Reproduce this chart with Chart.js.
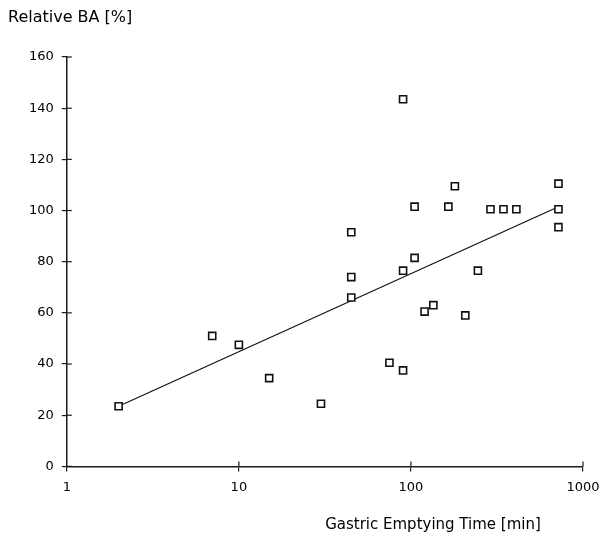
<!DOCTYPE html>
<html>
<head>
<meta charset="utf-8">
<script src="https://cdn.jsdelivr.net/npm/chart.js@4/dist/chart.umd.min.js"></script>
<style>
  html, body { margin: 0; padding: 0; background: #fff; }
  #wrap { width: 604px; height: 543px; }
</style>
</head>
<body>
<div id="wrap"><canvas id="grafico" width="604" height="543"></canvas></div>
<script>
/* ---------- dados ---------- */
// tempo de esvaziamento gástrico [min]
const tempoMin = [2, 7, 10, 15, 30, 45, 45, 45, 75, 90, 90, 90, 105, 105, 120, 135, 165, 180, 207, 245, 290, 345, 410, 720, 720, 720];
// biodisponibilidade relativa [%]
const relBA    = [23.5, 51, 47.5, 34.5, 24.5, 91.5, 74, 66, 40.5, 37.5, 76.5, 143.5, 101.5, 81.5, 60.5, 63, 101.5, 109.5, 59, 76.5, 100.5, 100.5, 100.5, 110.5, 100.5, 93.5];
// reta de regressão (extremos)
const retaX = [2, 720];
const retaY = [23.5, 101.5];
// marcas dos eixos
const ticksX = [1, 10, 100, 1000];
const ticksY = [0, 20, 40, 60, 80, 100, 120, 140, 160];

const fonte = "'DejaVu Sans', sans-serif";
const corEixo = '#1a1a1a';

// marcas que cruzam o eixo para dentro da área + títulos
const marcasInternas = {
  id: 'marcasInternas',
  afterDraw(chart) {
    const { ctx, chartArea, scales } = chart;
    ctx.save();
    ctx.strokeStyle = corEixo;
    ctx.lineWidth = 1.2;
    ticksY.forEach(v => {
      const y = scales.y.getPixelForValue(v);
      ctx.beginPath();
      ctx.moveTo(chartArea.left, y);
      ctx.lineTo(chartArea.left + 5, y);
      ctx.stroke();
    });
    ticksX.slice(1).forEach(v => {
      const x = scales.x.getPixelForValue(v);
      ctx.beginPath();
      ctx.moveTo(x, chartArea.bottom);
      ctx.lineTo(x, chartArea.bottom - 5);
      ctx.stroke();
    });
    ctx.fillStyle = '#000';
    ctx.textBaseline = 'middle';
    ctx.textAlign = 'left';
    ctx.font = '16px ' + fonte;
    ctx.fillText('Relative BA [%]', 8, 18);
    ctx.textAlign = 'center';
    ctx.font = '15px ' + fonte;
    ctx.fillText('Gastric Emptying Time [min]', 433, 525);
    ctx.restore();
  }
};

new Chart(document.getElementById('grafico').getContext('2d'), {
  data: {
    datasets: [
      {
        type: 'scatter',
        data: tempoMin.map((t, i) => ({ x: t, y: relBA[i] })),
        pointStyle: 'rect',
        pointRadius: 5,
        pointBorderWidth: 1.6,
        pointBorderColor: '#111',
        pointBackgroundColor: '#fff'
      },
      {
        type: 'line',
        data: retaX.map((t, i) => ({ x: t, y: retaY[i] })),
        borderColor: '#111',
        borderWidth: 1.2,
        pointRadius: 0,
        fill: false
      }
    ]
  },
  options: {
    responsive: false,
    animation: false,
    layout: { padding: { top: 57, right: 21, bottom: 40, left: 21 } },
    plugins: {
      legend: { display: false },
      tooltip: { enabled: false }
    },
    scales: {
      x: {
        type: 'logarithmic',
        min: 1,
        max: 1000,
        afterBuildTicks: (s) => { s.ticks = ticksX.map(v => ({ value: v })); },
        afterFit: (s) => { s.paddingRight = 0; s.paddingLeft = 0; },
        grid: { drawOnChartArea: false, drawTicks: true, tickLength: 5, color: corEixo, lineWidth: 1.2 },
        border: { display: true, color: corEixo, width: 1.5 },
        ticks: {
          color: '#000',
          font: { family: fonte, size: 13 },
          padding: 8,
          maxRotation: 0,
          callback: (v) => String(v)
        }
      },
      y: {
        min: 0,
        max: 160,
        afterBuildTicks: (s) => { s.ticks = ticksY.map(v => ({ value: v })); },
        grid: { drawOnChartArea: false, drawTicks: true, tickLength: 5, color: corEixo, lineWidth: 1.2 },
        border: { display: true, color: corEixo, width: 1.5 },
        ticks: {
          color: '#000',
          font: { family: fonte, size: 13 },
          padding: 8
        }
      }
    }
  },
  plugins: [marcasInternas]
});
</script>
</body>
</html>
